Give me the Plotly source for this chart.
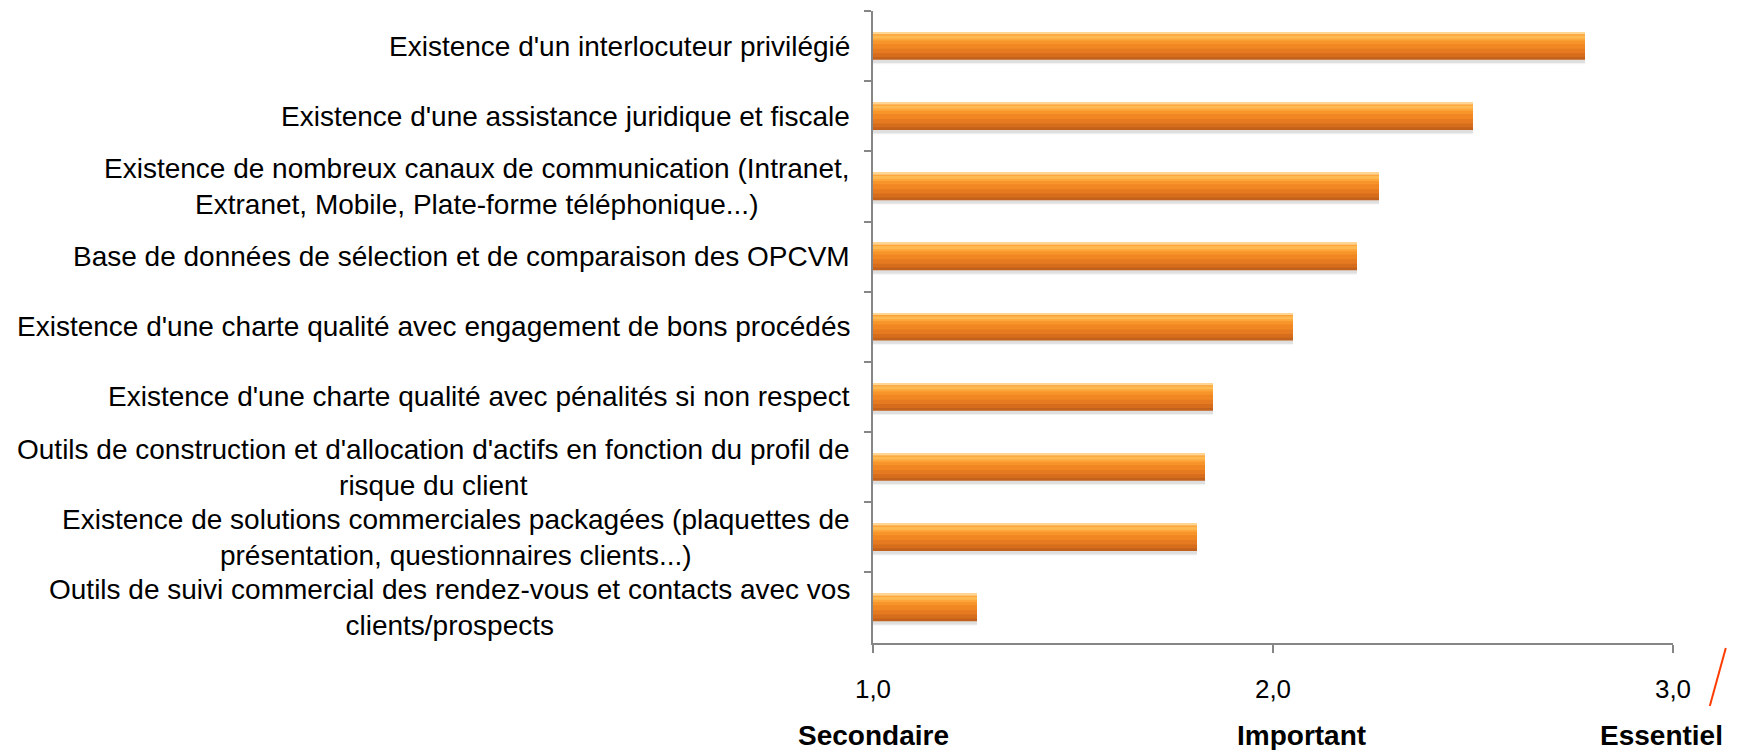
import plotly.graph_objects as go

# ── data ────────────────────────────────────────────────────────────────
labels = [
    "Existence d'un interlocuteur privilégié",
    "Existence d'une assistance juridique et fiscale",
    "Existence de nombreux canaux de communication (Intranet,<br>Extranet, Mobile, Plate-forme téléphonique...)",
    "Base de données de sélection et de comparaison des OPCVM",
    "Existence d'une charte qualité avec engagement de bons procédés",
    "Existence d'une charte qualité avec pénalités si non respect",
    "Outils de construction et d'allocation d'actifs en fonction du profil de<br>risque du client",
    "Existence de solutions commerciales packagées (plaquettes de<br>présentation, questionnaires clients...)",
    "Outils de suivi commercial des rendez-vous et contacts avec vos<br>clients/prospects",
]
scores = [2.78, 2.50, 2.265, 2.21, 2.05, 1.85, 1.83, 1.81, 1.26]

scale_ticks = [1, 2, 3]
scale_names = ["Secondaire", "Important", "Essentiel"]
scale_name_x = [1.0, 2.07, 2.97]

FONT = "Liberation Sans, Arial, sans-serif"
AXIS_GREY = "#868686"
BAR_W = 0.39  # bar thickness in category units

fig = go.Figure()

# soft drop shadow below each bar
for shift, alpha in [(0.16, 0.05), (0.12, 0.08)]:
    fig.add_trace(go.Bar(
        y=labels, x=scores, orientation="h",
        width=BAR_W, offset=-BAR_W / 2 + BAR_W * shift,
        marker=dict(color=f"rgba(0,0,0,{alpha})", line_width=0),
        hoverinfo="skip", showlegend=False,
    ))

# glossy orange look: horizontal bands, top -> bottom
bands = [
    # (start, end) as fractions of bar thickness from the top, colour
    (0.00, 1.00, "#c2611b"),
    (0.00, 0.90, "#d66d1d"),
    (0.00, 0.76, "#e57a20"),
    (0.00, 0.60, "#f08723"),
    (0.00, 0.42, "#f7942a"),
    (0.08, 0.30, "#fca63c"),
    (0.12, 0.22, "#feba52"),
    (0.00, 0.07, "#ffd593"),
]
for start, end, color in bands:
    fig.add_trace(go.Bar(
        y=labels, x=scores, orientation="h",
        width=BAR_W * (end - start), offset=-BAR_W / 2 + BAR_W * start,
        marker=dict(color=color, line_width=0),
        hovertemplate="%{x:.2f}<extra></extra>",
        showlegend=False,
    ))

# category labels (centred lines, block right-aligned against the axis)
for lab in labels:
    fig.add_annotation(
        x=0, xref="paper", xanchor="right", xshift=-21,
        y=lab, yref="y", yanchor="middle",
        text=lab, align="center", showarrow=False,
        font=dict(family=FONT, size=28, color="#000000"),
    )

# scale names under the ticks
for name, xpos in zip(scale_names, scale_name_x):
    fig.add_annotation(
        x=xpos, xref="x", xanchor="center",
        y=-0.146, yref="paper", yanchor="middle",
        text=f"<b>{name}</b>", showarrow=False,
        font=dict(family=FONT, size=28, color="#000000"),
    )

# little red stroke next to the last tick
fig.add_shape(
    type="line", xref="paper", yref="paper",
    x0=1.066, y0=-0.008, x1=1.046, y1=-0.0997,
    line=dict(color="#ff3c00", width=2),
)

# page body has an 8px margin, so margins are trimmed by 8 on the left/top
fig.update_layout(
    barmode="overlay",
    width=1742, height=750,
    margin=dict(l=865, r=77, t=3, b=115),
    plot_bgcolor="white", paper_bgcolor="white",
    separators=", ",
    font=dict(family=FONT, color="#000000"),
)
fig.update_xaxes(
    range=[1, 3], tickvals=scale_ticks, tickformat=".1f",
    showgrid=False, zeroline=False,
    showline=True, linecolor=AXIS_GREY, linewidth=2,
    ticks="outside", ticklen=8, tickwidth=1.5, tickcolor=AXIS_GREY,
    tickfont=dict(family=FONT, size=26, color="#000000"),
    ticklabelstandoff=14,
)
fig.update_yaxes(
    type="category", categoryorder="array", categoryarray=labels,
    autorange="reversed",
    showticklabels=False, showgrid=False, zeroline=False,
    showline=True, linecolor=AXIS_GREY, linewidth=2,
    ticks="outside", tickson="boundaries", ticklen=7,
    tickwidth=1.5, tickcolor=AXIS_GREY,
)

fig.write_html("out.html")
